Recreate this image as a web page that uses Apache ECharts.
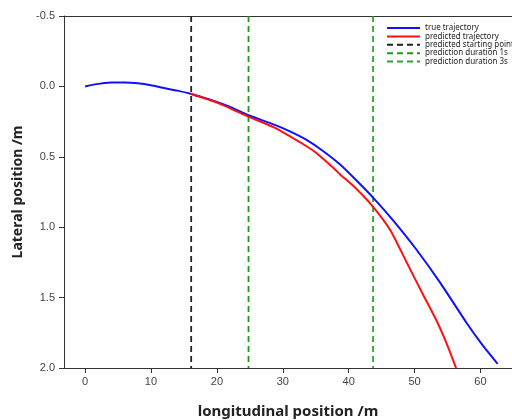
<!DOCTYPE html>
<html>
<head>
<meta charset="utf-8">
<script src="https://cdn.jsdelivr.net/npm/echarts@6/dist/echarts.min.js"></script>
<style>html,body{margin:0;padding:0;background:#fff}#c{width:512px;height:420px}</style>
</head>
<body>
<div id="c"></div>
<script>
const trueX = [0, 2, 4, 6, 8, 10, 12, 14, 16, 18, 20, 22, 24.8, 28.6, 31, 33.6, 36, 38.7, 41, 43.7, 46.8, 50.3, 53.9, 57.9, 60.2, 62.6];
const trueY = [0.0, -0.018, -0.027, -0.028, -0.022, -0.008, 0.012, 0.03, 0.052, 0.08, 0.11, 0.145, 0.205, 0.27, 0.318, 0.38, 0.455, 0.555, 0.66, 0.79, 0.955, 1.16, 1.395, 1.68, 1.83, 1.97];
const predX = [16, 20, 24.8, 28.6, 33.6, 35, 37.7, 38.7, 41, 43.7, 46.3, 48.8, 51.3, 53.4, 54.9, 56.3];
const predY = [0.052, 0.115, 0.215, 0.29, 0.425, 0.47, 0.58, 0.625, 0.72, 0.855, 1.02, 1.25, 1.48, 1.67, 1.83, 2.0];
const startX = 16.1;
const dur1X = 24.8;
const dur3X = 43.7;
const xTicks = [0, 10, 20, 30, 40, 50, 60];
const yRange = [-0.5, 2.0];
const names = ['true trajectory', 'predicted trajectory', 'predicted starting point', 'prediction duration 1s', 'prediction duration 3s'];

const zip = (a, b) => a.map((v, i) => [v, b[i]]);
const vline = x => [[x, yRange[0]], [x, yRange[1]]];

const chart = echarts.init(document.getElementById('c'), null, {renderer: 'canvas'});
const labelFont = {color: '#444', fontSize: 11, fontFamily: 'Liberation Sans, Arial, sans-serif'};
const xMin = -3.2, xMax = -3.2 + 448 / 6.59;
chart.setOption({
  animation: false,
  backgroundColor: '#fff',
  grid: {left: 64, top: 16, right: 0, height: 352, show: false, outerBoundsMode: 'none', containLabel: false},
  legend: {
    orient: 'vertical', left: 381, top: 19,
    itemWidth: 33, itemHeight: 6, itemGap: 0.4,
    itemStyle: {opacity: 0},
    textStyle: {fontSize: 8, lineHeight: 8, color: '#222', fontFamily: 'Noto Sans, sans-serif'},
    data: names
  },
  xAxis: [{
    type: 'value', min: xMin, max: xMax,
    splitLine: {show: false},
    axisLine: {show: true, onZero: false, lineStyle: {color: '#333'}},
    axisTick: {show: true, length: 5, customValues: xTicks, lineStyle: {color: '#333'}},
    axisLabel: Object.assign({margin: 8, customValues: xTicks, formatter: v => String(v)}, labelFont),
    name: 'longitudinal position /m', nameLocation: 'middle', nameGap: 36,
    nameTextStyle: {fontSize: 15, fontWeight: 'bold', color: '#222', fontFamily: 'Noto Sans, sans-serif'}
  }, {
    type: 'value', position: 'top', min: xMin, max: xMax,
    splitLine: {show: false},
    axisLine: {show: true, onZero: false, lineStyle: {color: '#333'}},
    axisTick: {show: false}, axisLabel: {show: false}
  }],
  yAxis: {
    type: 'value', inverse: true, min: yRange[0], max: yRange[1], interval: 0.5,
    splitLine: {show: false},
    axisLine: {show: true, onZero: false, lineStyle: {color: '#333'}},
    axisTick: {show: true, length: 5, lineStyle: {color: '#333'}},
    axisLabel: Object.assign({margin: 9, formatter: v => v.toFixed(1)}, labelFont),
    name: 'Lateral position /m', nameLocation: 'middle', nameGap: 31, nameRotate: 90,
    nameTextStyle: {fontSize: 14, fontWeight: 'bold', color: '#222', fontFamily: 'Noto Sans, sans-serif'}
  },
  series: [
    {name: names[0], type: 'line', data: zip(trueX, trueY), smooth: 0.2, symbol: 'none', color: '#1010ff', lineStyle: {width: 2, color: '#1010ff'}, z: 3},
    {name: names[1], type: 'line', data: zip(predX, predY), smooth: 0.2, symbol: 'none', color: '#ff1010', lineStyle: {width: 2, color: '#ff1010'}, z: 4},
    {name: names[2], type: 'line', data: vline(startX), symbol: 'none', color: '#222', lineStyle: {width: 1.8, type: [6, 4], color: '#222'}, z: 2},
    {name: names[3], type: 'line', data: vline(dur1X), symbol: 'none', color: '#1a9a1a', lineStyle: {width: 1.8, type: [6, 4], color: '#1a9a1a'}, z: 2},
    {name: names[4], type: 'line', data: vline(dur3X), symbol: 'none', color: '#2aa52a', lineStyle: {width: 1.8, type: [6, 4], color: '#2aa52a'}, z: 2}
  ]
});
</script>
</body>
</html>
